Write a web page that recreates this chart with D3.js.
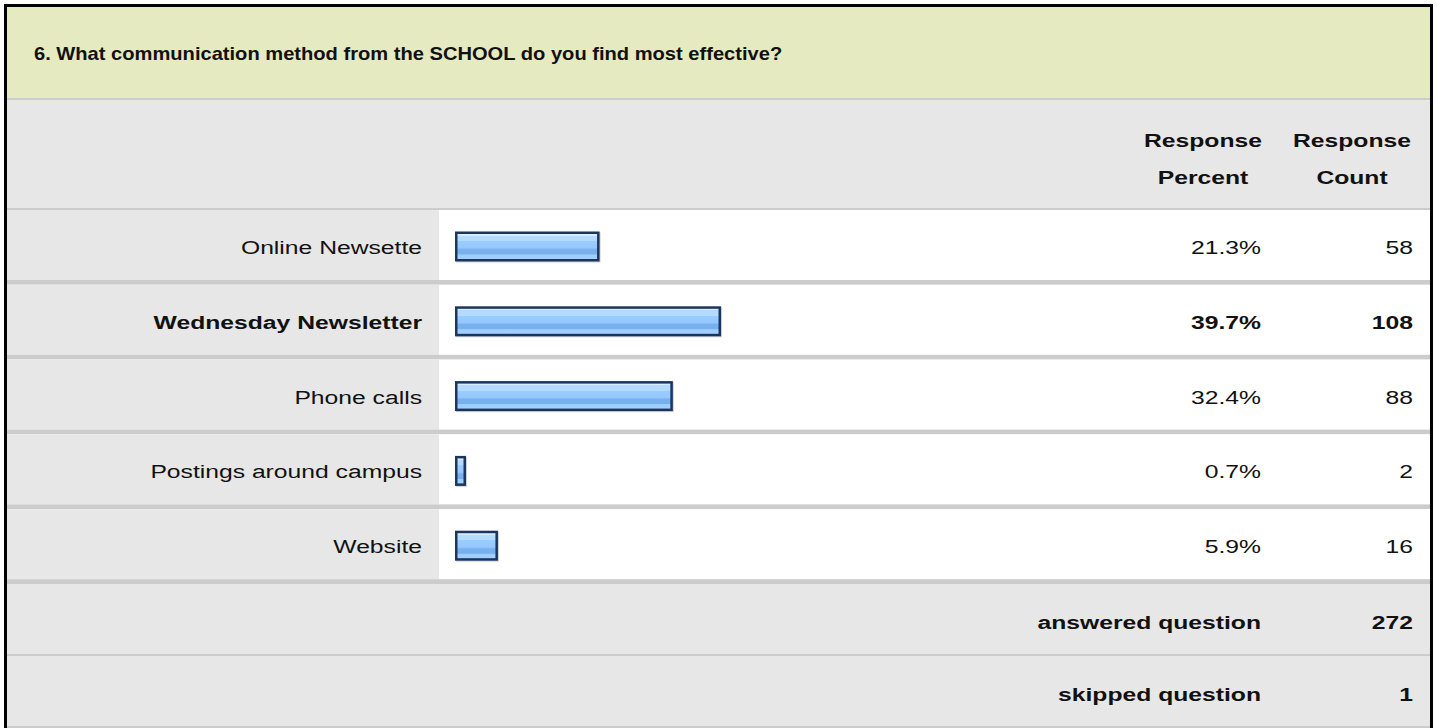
<!DOCTYPE html>
<html>
<head>
<meta charset="utf-8">
<script src="https://cdn.jsdelivr.net/npm/d3@7"></script>
<style>
  body { margin: 0; background: #fff; }
  text { font-family: "Liberation Sans", Arial, sans-serif; fill: #111; }
</style>
</head>
<body>
<div id="chart"></div>
<script>
let w = 1437;
let h = 728;

// data
let title = "6. What communication method from the SCHOOL do you find most effective?";
let categories = ["Online Newsette", "Wednesday Newsletter", "Phone calls", "Postings around campus", "Website"];
let percents = [21.3, 39.7, 32.4, 0.7, 5.9];
let counts = [58, 108, 88, 2, 16];
let colHeaders = [["Response", "Percent"], ["Response", "Count"]];
let summaryLabels = ["answered question", "skipped question"];
let summaryValues = [272, 1];

let rows = categories.map((c, i) => ({label: c, pct: percents[i], count: counts[i]}));
let maxCount = d3.max(counts);

// layout
let left = 7, right = 1430;
let labelRight = 422, labelColEnd = 439, barStart = 455;
let pctRight = 1261, countRight = 1413;
let pctCenter = 1203, countCenter = 1352;
let sx = 1.3;   // text looks stretched sideways in the original
let sepColor = "#cccccc", grayBg = "#e7e7e7";

let viz = d3.select("#chart").append("svg")
  .attr("width", w)
  .attr("height", h);

// gradient for the bars
let grad = viz.append("defs").append("linearGradient")
  .attr("id", "barGrad").attr("x1", 0).attr("y1", 0).attr("x2", 0).attr("y2", 1);
[[0, "#d6ecff"], [0.1, "#d6ecff"], [0.1, "#b4daff"], [0.3, "#b4daff"], [0.3, "#9acdff"],
 [0.55, "#94c8ff"], [0.58, "#86bdf8"], [0.62, "#78b0ee"], [0.78, "#78b0ee"], [0.8, "#9ccdfd"], [1, "#a4d2ff"]]
  .forEach(s => grad.append("stop").attr("offset", s[0]).attr("stop-color", s[1]));

function txt(g, x, y, str, opts) {
  opts = opts || {};
  return g.append("text")
    .attr("transform", "translate(" + x + "," + y + ") scale(" + (opts.sx || sx) + ",1)")
    .attr("text-anchor", opts.anchor || "end")
    .attr("font-size", opts.size || 19)
    .attr("font-weight", opts.bold ? "bold" : "normal")
    .text(str);
}

// title band
viz.append("rect").attr("x", left).attr("y", 7).attr("width", right - left).attr("height", 91).attr("fill", "#e6eac1");
viz.append("rect").attr("x", left).attr("y", 98).attr("width", right - left).attr("height", 2).attr("fill", sepColor);
txt(viz, 34, 60, title, {anchor: "start", size: 17.5, bold: true, sx: 1.15});

// column header band
viz.append("rect").attr("x", left).attr("y", 100).attr("width", right - left).attr("height", 108).attr("fill", grayBg);
viz.append("rect").attr("x", left).attr("y", 208).attr("width", right - left).attr("height", 2).attr("fill", sepColor);
colHeaders.forEach((lines, i) => {
  let cx = i == 0 ? pctCenter : countCenter;
  lines.forEach((l, j) => txt(viz, cx, 147 + j * 36.5, l, {anchor: "middle", bold: true}));
});

// rows
let yScale = d3.scaleBand().domain(categories).range([210, 584]);
let sepH = 4.8;
let rowH = yScale.bandwidth() - sepH;
let xScale = d3.scaleLinear().domain([0, 100]).range([0, 660]);

let rowG = viz.selectAll(".row").data(rows).enter().append("g")
  .attr("class", "row")
  .attr("transform", d => "translate(0," + yScale(d.label) + ")");

rowG.append("rect").attr("x", left).attr("y", 0).attr("width", right - left).attr("height", rowH).attr("fill", "#fff");
rowG.append("rect").attr("x", left).attr("y", 0).attr("width", labelColEnd - left).attr("height", rowH).attr("fill", grayBg);
rowG.append("rect").attr("x", left).attr("y", rowH).attr("width", right - left).attr("height", sepH).attr("fill", sepColor);

let barH = 30;
let barW = d => Math.max(xScale(d.pct) + 4, 11);
let barY = rowH / 2 + 1.5 - barH / 2;

// faint shadow then bar
rowG.append("rect")
  .attr("x", barStart + 1).attr("y", barY + 1)
  .attr("width", d => barW(d)).attr("height", barH)
  .attr("fill", "#9aa6b6").attr("opacity", 0.5);
rowG.append("rect")
  .attr("class", "datapoint")
  .attr("x", barStart + 1.25).attr("y", barY + 1.25)
  .attr("width", d => barW(d) - 2.5).attr("height", barH - 2.5)
  .attr("fill", "url(#barGrad)")
  .attr("stroke", "#1b355d").attr("stroke-width", 2.5);

rowG.each(function (d) {
  let g = d3.select(this);
  let b = d.count == maxCount;
  let base = rowH / 2 + 9;
  txt(g, labelRight, base, d.label, {bold: b});
  txt(g, pctRight, base, d.pct.toFixed(1) + "%", {bold: b});
  txt(g, countRight, base, d.count, {bold: b});
});

// summary rows
let sumY = [584, 656];
summaryLabels.forEach((l, i) => {
  let y0 = sumY[i];
  viz.append("rect").attr("x", left).attr("y", y0).attr("width", right - left).attr("height", 70).attr("fill", grayBg);
  viz.append("rect").attr("x", left).attr("y", y0 + 70).attr("width", right - left).attr("height", 2).attr("fill", sepColor);
  txt(viz, pctRight, y0 + 35 + 10, l, {bold: true});
  txt(viz, countRight, y0 + 35 + 10, summaryValues[i], {bold: true});
});

// outer border
viz.append("rect")
  .attr("x", 5.5).attr("y", 5.5).attr("width", 1426).attr("height", 760)
  .attr("fill", "none").attr("stroke", "#000").attr("stroke-width", 3);
</script>
</body>
</html>
